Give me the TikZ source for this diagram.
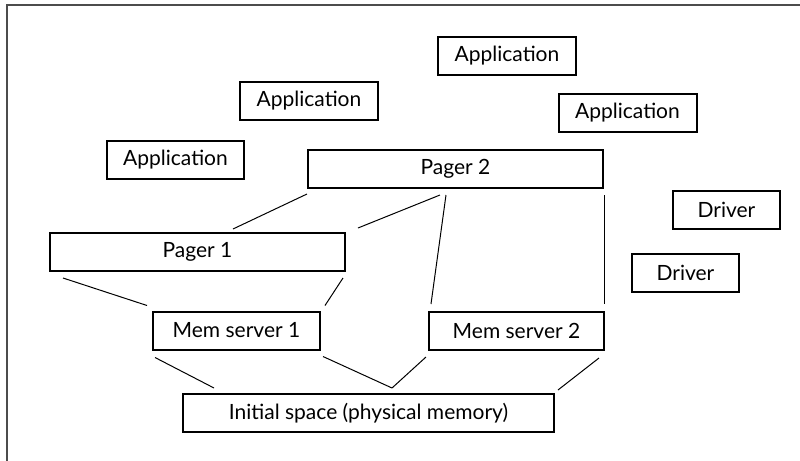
\documentclass[tikz,border=0pt]{standalone}
\usepackage{fontspec}
\setmainfont{Lato}
\usepackage{tikz}
\usetikzlibrary{calc, positioning}

\begin{document}
\begin{tikzpicture}[x=0.5pt, y=-0.5pt,
	box/.style={draw, line width=1pt, minimum height=19pt, inner sep=0pt, font=\fontsize{10.5}{12.5}\selectfont},
	link/.style={line width=0.5pt}]
	\useasboundingbox (0,0) rectangle (800,461);
	%Marco
	\draw[line width=1pt, black!70] (800,5) -- (7,5) -- (7,461);
	
	%Aplicaciones
	\node[box, minimum width=69pt] (appC) at (507,56) {Application};
	\node[box, minimum width=69pt] (appA) at (309,101) {Application};
	\node[box, minimum width=69pt] (appD) at (627.5,113) {Application};
	\node[box, minimum width=68.5pt] (appB) at (175.5,160) {Application};
	
	%Drivers
	\node[box, minimum width=53.5pt] (drvA) at (726.5,209.5) {Driver};
	\node[box, minimum width=53.5pt] (drvB) at (685.5,273) {Driver};
	
	%Pagers
	\node[box, minimum width=147.5pt] (pagerB) at (455.5,169) {Pager 2};
	\node[box, minimum width=147.5pt] (pagerA) at (197.5,252) {Pager 1};
	
	%Mem servers
	\node[box, minimum width=83.5pt] (memA) at (236.5,330.5) {Mem server 1};
	\node[box, minimum width=87.5pt] (memB) at (516.5,331) {Mem server 2};
	
	%Espacio inicial
	\node[box, minimum width=185.5pt] (init) at (368.5,413) {Initial space (physical memory)};
	
	%Conexiones
	\draw[link] ($(pagerB.south west)+(0,5)$) -- ($(pagerA.north)+(35.5,-3)$);
	\draw[link] ($(pagerB.south)+(-15.5,6)$) -- ($(pagerA.north east)+(12,-4)$);
	\draw[link] ($(pagerB.south)+(-9.5,6)$) -- ($(memB.north west)+(3,-7)$);
	\draw[link] ($(pagerB.south east)+(0,6)$) -- ($(memB.north east)+(-1,-7)$);
	\draw[link] ($(pagerA.south west)+(14,6)$) -- ($(memA.north west)+(-5,-5)$);
	\draw[link] ($(pagerA.south east)+(-3,6)$) -- ($(memA.north east)+(4,-5)$);
	\draw[link] ($(memA.south west)+(3,7)$) -- ($(init.north west)+(32,-5)$);
	\draw[link] ($(memA.south east)+(2,6)$) -- ($(init.north)+(23.5,-5)$);
	\draw[link] ($(memB.south west)+(-2,6)$) -- ($(init.north)+(23.5,-5)$);
	\draw[link] ($(memB.south east)+(-6,7)$) -- ($(init.north east)+(3,-3)$);
\end{tikzpicture}
\end{document}
